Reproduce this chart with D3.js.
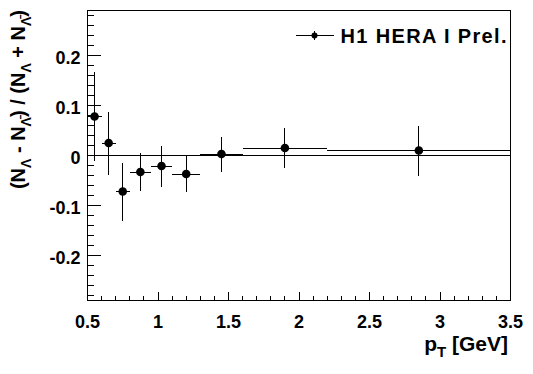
<!DOCTYPE html>
<html>
<head>
<meta charset="utf-8">
<script src="https://cdn.jsdelivr.net/npm/d3@7"></script>
<style>
  body { margin: 0; background: #fff; }
  svg { display: block; }
  text { font-family: "Liberation Sans", Arial, sans-serif; font-weight: bold; fill: #000; }
  line, rect { shape-rendering: crispEdges; }
</style>
</head>
<body>
<div></div>
<script>
      var outerWidth  = 533;
      var outerHeight = 374;
      var margin = { left: 87, top: 10, right: 23, bottom: 74 };

      // pT bins and the measured asymmetry
      var ptCenter = [0.55, 0.65, 0.75, 0.875, 1.025, 1.2, 1.45, 1.9, 2.85];
      var ptLow    = [0.5, 0.6, 0.7, 0.8, 0.95, 1.1, 1.3, 1.6, 2.2];
      var ptHigh   = [0.6, 0.7, 0.8, 0.95, 1.1, 1.3, 1.6, 2.2, 3.5];
      var asym     = [0.078, 0.025, -0.072, -0.033, -0.021, -0.037, 0.003, 0.015, 0.010];
      var asymErr  = [0.089, 0.063, 0.058, 0.038, 0.041, 0.036, 0.035, 0.040, 0.050];

      var xTickValues = [0.5, 1, 1.5, 2, 2.5, 3, 3.5];
      var yTickValues = [-0.2, -0.1, 0, 0.1, 0.2];
      var legendLabel = "H1 HERA I Prel.";

      var innerWidth  = outerWidth  - margin.left - margin.right;
      var innerHeight = outerHeight - margin.top  - margin.bottom;

      var data = ptCenter.map(function (x, i){
        return { x: x, lo: ptLow[i], hi: ptHigh[i], y: asym[i], e: asymErr[i] };
      });

      var svg = d3.select("div").append("svg")
        .attr("width",  outerWidth)
        .attr("height", outerHeight);

      // half pixel shift keeps the 1px lines sharp
      var g = svg.append("g")
        .attr("transform", "translate(" + (margin.left + 0.5) + "," + (margin.top + 0.5) + ")");

      var xScale = d3.scaleLinear().domain([0.5, 3.5]).range([0, innerWidth]);
      var yScale = d3.scaleLinear().domain([-0.29, 0.29]).range([innerHeight, 0]);

      // frame
      g.append("rect")
        .attr("x", 0).attr("y", 0)
        .attr("width", innerWidth).attr("height", innerHeight)
        .attr("fill", "none").attr("stroke", "#000").attr("stroke-width", 1);

      // root style ticks: drawn inward, minor ticks half length
      var xMinor = d3.range(5, 36).map(function (d){ return d / 10; });
      var yMinor = d3.range(-14, 15).map(function (d){ return d / 50; });

      g.selectAll("line.xtick").data(xMinor).enter().append("line")
        .attr("class", "xtick")
        .attr("x1", function (d){ return xScale(d); })
        .attr("x2", function (d){ return xScale(d); })
        .attr("y1", innerHeight)
        .attr("y2", function (d){ return innerHeight - (Math.abs(d * 2 - Math.round(d * 2)) < 1e-6 ? 9 : 4.5); })
        .attr("stroke", "#000");

      g.selectAll("line.ytick").data(yMinor).enter().append("line")
        .attr("class", "ytick")
        .attr("y1", function (d){ return yScale(d); })
        .attr("y2", function (d){ return yScale(d); })
        .attr("x1", 0)
        .attr("x2", function (d){ return Math.abs(d * 10 - Math.round(d * 10)) < 1e-6 ? 13 : 6.5; })
        .attr("stroke", "#000");

      // tick labels
      g.selectAll("text.xlab").data(xTickValues).enter().append("text")
        .attr("class", "xlab")
        .attr("x", function (d){ return xScale(d); })
        .attr("y", innerHeight + 27)
        .attr("text-anchor", "middle")
        .style("font-size", "18px")
        .text(function (d){ return d; });

      g.selectAll("text.ylab").data(yTickValues).enter().append("text")
        .attr("class", "ylab")
        .attr("x", -7)
        .attr("y", function (d){ return yScale(d) + 8; })
        .attr("text-anchor", "end")
        .style("font-size", "18px")
        .text(function (d){ return d; });

      // zero line
      g.append("line")
        .attr("x1", 0).attr("x2", innerWidth)
        .attr("y1", yScale(0)).attr("y2", yScale(0))
        .attr("stroke", "#000");

      // error bars and markers
      var pts = g.selectAll("g.pt").data(data).enter().append("g").attr("class", "pt");

      pts.append("line")
        .attr("x1", function (d){ return xScale(d.lo); })
        .attr("x2", function (d){ return xScale(d.hi); })
        .attr("y1", function (d){ return yScale(d.y); })
        .attr("y2", function (d){ return yScale(d.y); })
        .attr("stroke", "#000");

      pts.append("line")
        .attr("x1", function (d){ return xScale(d.x); })
        .attr("x2", function (d){ return xScale(d.x); })
        .attr("y1", function (d){ return yScale(d.y - d.e); })
        .attr("y2", function (d){ return yScale(d.y + d.e); })
        .attr("stroke", "#000");

      pts.append("circle")
        .attr("cx", function (d){ return xScale(d.x); })
        .attr("cy", function (d){ return yScale(d.y); })
        .attr("r", 4.3)
        .attr("fill", "#000");

      // legend
      var leg = svg.append("g").attr("transform", "translate(295.5,35.5)");
      leg.append("line").attr("x1", 0).attr("x2", 38).attr("y1", 0).attr("y2", 0).attr("stroke", "#000");
      leg.append("line").attr("x1", 19).attr("x2", 19).attr("y1", -5).attr("y2", 4).attr("stroke", "#000");
      leg.append("circle").attr("cx", 19).attr("cy", 0).attr("r", 3).attr("fill", "#000");
      leg.append("text")
        .attr("x", 45).attr("y", 7)
        .style("font-size", "20px")
        .attr("textLength", 166)
        .attr("lengthAdjust", "spacing")
        .text(legendLabel);

      // axis titles
      var xt = svg.append("text")
        .attr("x", 508)
        .attr("y", 351)
        .attr("text-anchor", "end")
        .style("font-size", "21px");
      xt.append("tspan").text("p");
      xt.append("tspan").attr("dy", 6).style("font-size", "15px").text("T");
      xt.append("tspan").attr("dy", -6).text(" [GeV]");

      var yt = svg.append("text")
        .attr("transform", "translate(25,10) rotate(-90)")
        .attr("text-anchor", "end")
        .style("font-size", "20px");

      var mains = ["(N", " - N", ") / (N", " + N"];
      var subs  = ["\u039B", "\u039B\u0304", "\u039B", "\u039B\u0304"];
      mains.forEach(function (m, i){
        yt.append("tspan").attr("dy", i ? -6 : 0).text(m);
        yt.append("tspan").attr("dy", 6).style("font-size", "14px").text(subs[i]);
      });
      yt.append("tspan").attr("dy", -6).text(")");
</script>
</body>
</html>
